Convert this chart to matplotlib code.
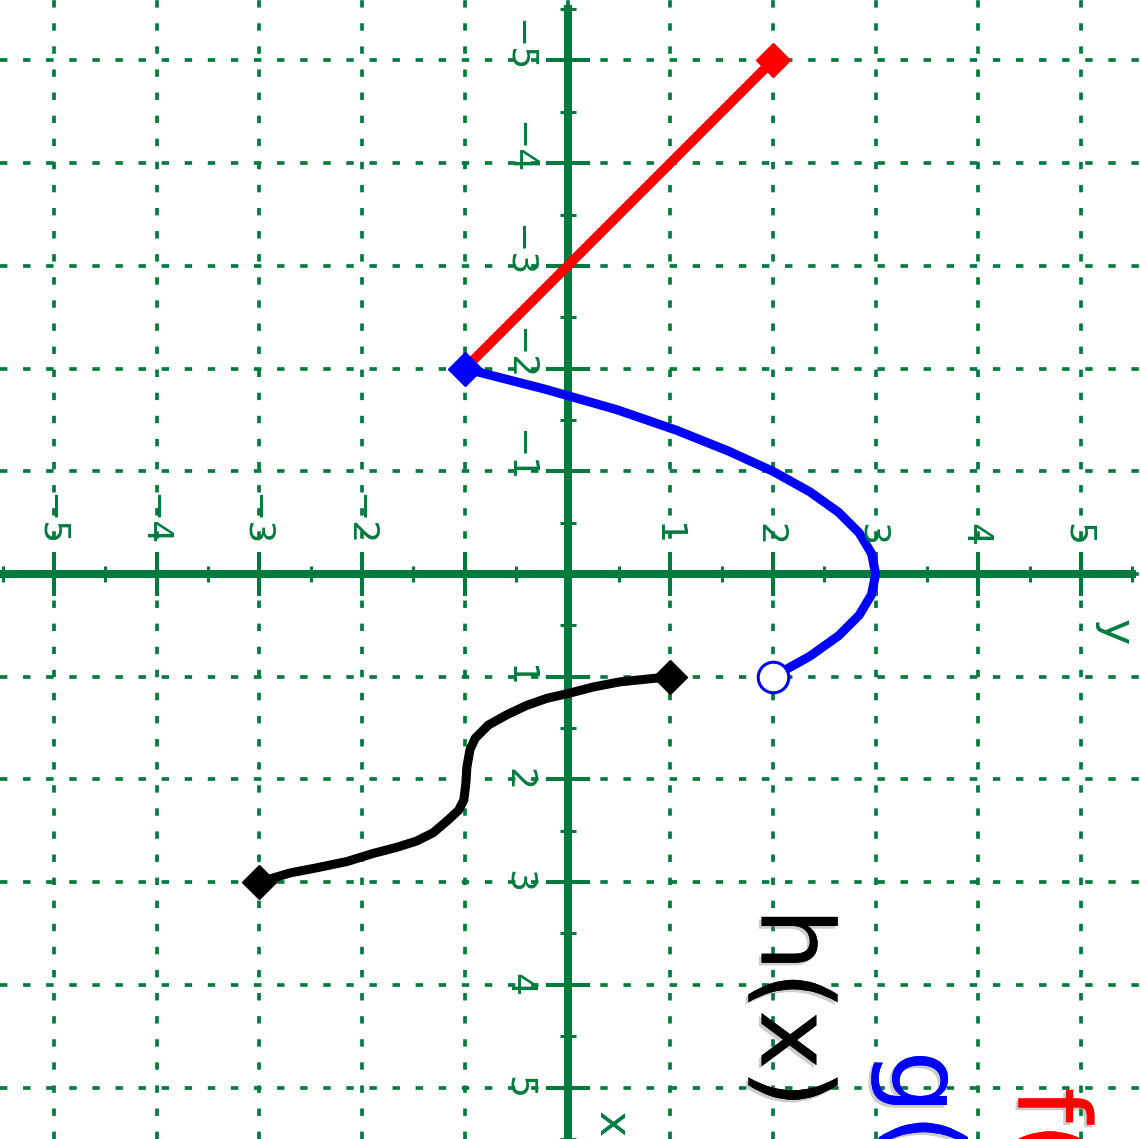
import matplotlib
matplotlib.use('Agg')
import matplotlib.pyplot as plt
import matplotlib.patheffects as pe
from matplotlib.ticker import FixedLocator

# picture is the usual graph turned a quarter turn clockwise:
# original x runs down the page, original y runs to the right
green = '#007b3d'

# f(x): straight piece, closed at both ends
f_x = [-5, -2]
f_y = [2, -1]

# g(x): closed at x=-2, open at x=1
g_x = [-2.0, -1.8, -1.6, -1.4, -1.2, -1.0, -0.8, -0.6, -0.4, -0.2,
       0.0, 0.2, 0.4, 0.6, 0.8, 1.0]
g_y = [-1.0, -0.22, 0.48, 1.06, 1.56, 2.0, 2.36, 2.64, 2.84, 2.96,
       3.0, 2.96, 2.84, 2.64, 2.36, 2.0]

# h(x): closed at both ends
h_x = [1.0, 1.05, 1.10, 1.16, 1.21, 1.28, 1.37, 1.47, 1.60, 1.71, 1.88, 2.04,
       2.20, 2.30, 2.41, 2.52, 2.60, 2.66, 2.72, 2.80, 2.86, 2.91, 3.0]
h_y = [1.0, 0.51, 0.25, 0.02, -0.20, -0.40, -0.59, -0.77, -0.90, -0.95, -0.98, -0.99,
       -1.01, -1.06, -1.18, -1.31, -1.47, -1.66, -1.89, -2.15, -2.44, -2.70, -3.0]

grid_vals = [-5, -4, -3, -2, -1, 0, 1, 2, 3, 4, 5]
minor_vals = [-5.5, -4.5, -3.5, -2.5, -1.5, -0.5, 0.5, 1.5, 2.5, 3.5, 4.5, 5.5]
x_labels = [-5, -4, -3, -2, -1, 1, 2, 3, 4, 5]   # along the vertical line
y_labels = [-5, -4, -3, -2, 1, 2, 3, 4, 5]       # along the horizontal line

names = ['h(x) =', 'g(x) =', 'f(x) =']
name_colors = ['black', 'blue', 'red']

fig = plt.figure(figsize=(11.4, 11.39), dpi=100)
ax = fig.add_axes([0, 0, 1, 1])
ax.set_xlim(-5.526, 5.574)
ax.set_ylim(5.501, -5.589)

for side in ['top', 'right']:
    ax.spines[side].set_visible(False)
for side in ['left', 'bottom']:
    ax.spines[side].set_position(('data', 0))
    ax.spines[side].set_color(green)
    ax.spines[side].set_linewidth(5.8)
    ax.spines[side].set_bounds(-5.5, 5.5)

ax.xaxis.set_major_locator(FixedLocator(grid_vals))
ax.yaxis.set_major_locator(FixedLocator(grid_vals))
ax.xaxis.set_minor_locator(FixedLocator(minor_vals))
ax.yaxis.set_minor_locator(FixedLocator(minor_vals))
ax.tick_params(which='major', direction='inout', length=32, width=2.9, color=green,
               labelleft=False, labelbottom=False)
ax.tick_params(which='minor', direction='inout', length=12, width=2.2, color=green)
ax.set_axisbelow(True)
ax.grid(which='major', color=green, linewidth=2.66, linestyle=(0, (2, 4.25)))

# curves
ax.plot(f_y, f_x, color='red', lw=7, zorder=3, solid_capstyle='round')
ax.plot(f_y[0], f_x[0], 'D', color='red', ms=17, zorder=4)

ax.plot(g_y, g_x, color='blue', lw=6.5, zorder=3, solid_capstyle='round')
ax.plot(g_y[0], g_x[0], 'D', color='blue', ms=17, zorder=4)
ax.plot(g_y[-1], g_x[-1], 'o', mfc='white', mec='blue', mew=2.2, ms=22, zorder=4)

ax.plot(h_y, h_x, color='black', lw=6.5, zorder=3, solid_capstyle='round')
ax.plot([h_y[0], h_y[-1]], [h_x[0], h_x[-1]], 'D', color='black', ms=17, zorder=4)

# tick labels, turned like everything else
for v in x_labels:
    ax.text(-0.44, v + 0.11, str(v).replace('-', '\u2212'), rotation=-90,
            rotation_mode='anchor', ha='right', va='center_baseline',
            fontsize=26, color=green)
for v in y_labels:
    ax.text(v, -0.27, str(v).replace('-', '\u2212'), rotation=-90,
            rotation_mode='anchor', ha='right', va='center_baseline',
            fontsize=26, color=green)
ax.text(0.43, 5.36, 'x', rotation=-90, rotation_mode='anchor', ha='center',
        va='center', fontsize=32, color=green)
ax.text(5.33, 0.57, 'y', rotation=-90, rotation_mode='anchor', ha='center',
        va='center', fontsize=32, color=green)

# function names, partly running off the page
name_pos = [(1.89, 3.25), (3.16, 4.64), (4.39, 5.0)]
shadow = [pe.withSimplePatchShadow(offset=(-2, -2), shadow_rgbFace='gray', alpha=0.4),
          pe.Normal()]
for (px, py), name, c in zip(name_pos, names, name_colors):
    ax.text(px, py, name, rotation=-90, rotation_mode='anchor', ha='left',
            va='baseline', fontsize=72, color=c, path_effects=shadow)

fig.savefig('out.png', dpi=100)
